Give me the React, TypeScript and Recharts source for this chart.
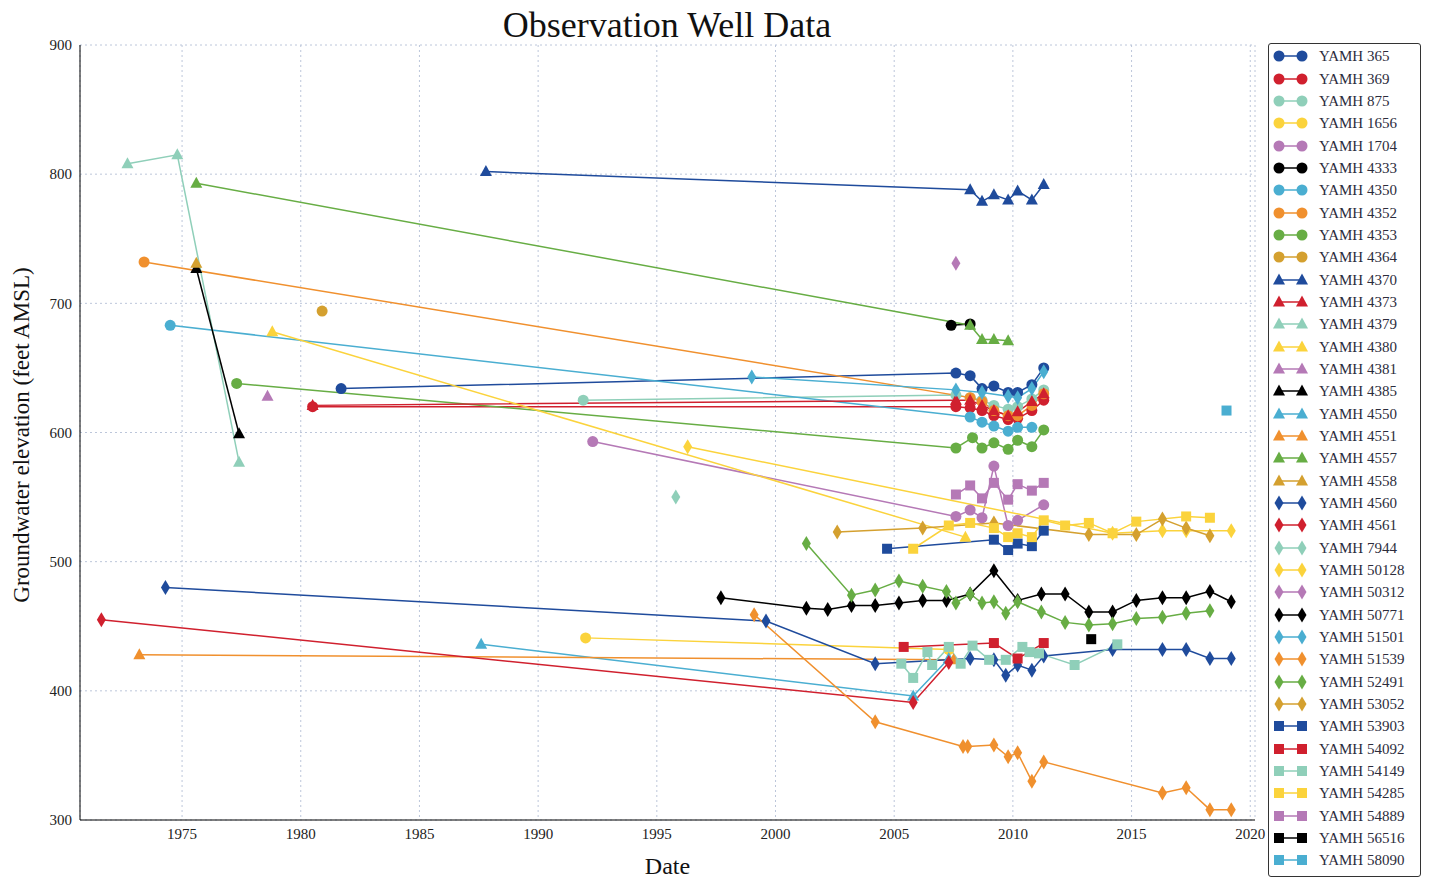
import { LineChart, Line, XAxis, YAxis, CartesianGrid, Legend } from "recharts";

type Pt = [number, number];

// year, elevation (ft AMSL)
const yamh365: Pt[] = [[1981.7, 634], [2007.6, 646], [2008.2, 644], [2008.7, 634], [2009.2, 636], [2009.8, 631], [2010.2, 631], [2010.8, 637], [2011.3, 650]];
const yamh369: Pt[] = [[1980.5, 620], [2007.6, 620], [2008.2, 619], [2008.7, 617], [2009.2, 613], [2009.8, 610], [2010.2, 611], [2010.8, 617], [2011.3, 625]];
const yamh875: Pt[] = [[1991.9, 625], [2007.6, 629], [2008.2, 627], [2008.7, 625], [2009.2, 621], [2009.8, 618], [2010.2, 620], [2010.8, 626], [2011.3, 633]];
const yamh1656: Pt[] = [[1992.0, 441], [2007.3, 432]];
const yamh1704: Pt[] = [[1992.3, 593], [2007.6, 535], [2008.2, 540], [2008.7, 534], [2009.2, 574], [2009.8, 528], [2010.2, 532], [2011.3, 544]];
const yamh4333: Pt[] = [[2007.4, 683], [2008.2, 684]];
const yamh4350: Pt[] = [[1974.5, 683], [2008.2, 612], [2008.7, 608], [2009.2, 605], [2009.8, 601], [2010.2, 604], [2010.8, 604]];
const yamh4352: Pt[] = [[1973.4, 732], [2008.2, 627], [2008.7, 624], [2009.2, 617], [2009.8, 613], [2010.2, 613], [2010.8, 621], [2011.3, 630]];
const yamh4353: Pt[] = [[1977.3, 638], [2007.6, 588], [2008.3, 596], [2008.7, 588], [2009.2, 592], [2009.8, 587], [2010.2, 594], [2010.8, 589], [2011.3, 602]];
const yamh4364: Pt[] = [[1980.9, 694]];
const yamh4370: Pt[] = [[1987.8, 802], [2008.2, 788], [2008.7, 779], [2009.2, 784], [2009.8, 780], [2010.2, 787], [2010.8, 780], [2011.3, 792]];
const yamh4373: Pt[] = [[1980.5, 621], [2007.6, 625], [2008.2, 625], [2008.7, 621], [2009.2, 617], [2009.8, 613], [2010.2, 616], [2010.8, 624], [2011.3, 630]];
const yamh4379: Pt[] = [[1972.7, 808], [1974.8, 815], [1977.4, 577]];
const yamh4380: Pt[] = [[1978.8, 678], [2008.0, 519]];
const yamh4381: Pt[] = [[1978.6, 628]];
const yamh4385: Pt[] = [[1975.6, 727], [1977.4, 599]];
const yamh4550: Pt[] = [[1987.6, 436], [2005.8, 396], [2007.3, 425]];
const yamh4551: Pt[] = [[1973.2, 428], [2007.5, 424]];
const yamh4557: Pt[] = [[1975.6, 793], [2008.2, 683], [2008.7, 672], [2009.2, 672], [2009.8, 671]];
const yamh4558: Pt[] = [[1975.6, 731]];
const yamh4560: Pt[] = [[1974.3, 480], [1999.6, 454], [2004.2, 421], [2008.2, 425], [2009.2, 424], [2009.7, 412], [2010.2, 420], [2010.8, 416], [2011.3, 427], [2014.2, 432], [2016.3, 432], [2017.3, 432], [2018.3, 425], [2019.2, 425]];
const yamh4561: Pt[] = [[1971.6, 455], [2005.8, 391], [2007.3, 422]];
const yamh7944: Pt[] = [[1995.8, 550]];
const yamh50128: Pt[] = [[1996.3, 589], [2014.2, 522], [2016.3, 524], [2017.3, 524], [2019.2, 524]];
const yamh50312: Pt[] = [[2007.6, 731]];
const yamh50771: Pt[] = [[1997.7, 472], [2001.3, 464], [2002.2, 463], [2003.2, 466], [2004.2, 466], [2005.2, 468], [2006.2, 470], [2007.2, 470], [2008.2, 475], [2009.2, 493], [2010.2, 470], [2011.2, 475], [2012.2, 475], [2013.2, 461], [2014.2, 461], [2015.2, 470], [2016.3, 472], [2017.3, 472], [2018.3, 477], [2019.2, 469]];
const yamh51501: Pt[] = [[1999.0, 643], [2007.6, 633], [2008.7, 631], [2009.8, 628], [2010.2, 627], [2010.8, 634], [2011.3, 647]];
const yamh51539: Pt[] = [[1999.1, 459], [2004.2, 376], [2007.9, 357], [2008.1, 357], [2009.2, 358], [2009.8, 349], [2010.2, 352], [2010.8, 330], [2011.3, 345], [2016.3, 321], [2017.3, 325], [2018.3, 308], [2019.2, 308]];
const yamh52491: Pt[] = [[2001.3, 514], [2003.2, 474], [2004.2, 478], [2005.2, 485], [2006.2, 481], [2007.2, 477], [2007.6, 468], [2008.2, 475], [2008.7, 468], [2009.2, 469], [2009.7, 460], [2010.2, 469], [2011.2, 461], [2012.2, 453], [2013.2, 451], [2014.2, 452], [2015.2, 456], [2016.3, 457], [2017.3, 460], [2018.3, 462]];
const yamh53052: Pt[] = [[2002.6, 523], [2006.2, 526], [2009.2, 530], [2013.2, 521], [2015.2, 521], [2016.3, 533], [2017.3, 526], [2018.3, 520]];
const yamh53903: Pt[] = [[2004.7, 510], [2009.2, 517], [2009.8, 509], [2010.2, 514], [2010.8, 512], [2011.3, 524]];
const yamh54092: Pt[] = [[2005.4, 434], [2009.2, 437], [2010.2, 425], [2011.3, 437]];
const yamh54149: Pt[] = [[2005.3, 421], [2005.8, 410], [2006.4, 430], [2006.6, 420], [2007.3, 434], [2007.8, 421], [2008.3, 435], [2009.0, 424], [2009.7, 424], [2010.4, 434], [2010.7, 430], [2011.1, 429], [2012.6, 420], [2014.4, 436]];
const yamh54285: Pt[] = [[2005.8, 510], [2007.3, 528], [2008.2, 530], [2009.2, 526], [2009.8, 519], [2010.2, 522], [2010.8, 519], [2011.3, 532], [2012.2, 528], [2013.2, 530], [2014.2, 522], [2015.2, 531], [2017.3, 535], [2018.3, 534]];
const yamh54889: Pt[] = [[2007.6, 552], [2008.2, 559], [2008.7, 549], [2009.2, 561], [2009.8, 548], [2010.2, 560], [2010.8, 555], [2011.3, 561]];
const yamh56516: Pt[] = [[2013.3, 440]];
const yamh58090: Pt[] = [[2019.0, 617]];

const yearTicks = [1975, 1980, 1985, 1990, 1995, 2000, 2005, 2010, 2015, 2020];
const elevTicks = [300, 400, 500, 600, 700, 800, 900];

const C = {
  blue: "#1f4b9c",
  red: "#d0202e",
  teal: "#8fcfb9",
  yellow: "#fbd33c",
  purple: "#b579b6",
  black: "#000000",
  cyan: "#4aaed1",
  orange: "#f0902e",
  green: "#67ad44",
  gold: "#d4a02f",
};

type Shape = "circle" | "triangle" | "diamond" | "square";

const series: { name: string; data: Pt[]; color: string; shape: Shape }[] = [
  { name: "YAMH 365", data: yamh365, color: C.blue, shape: "circle" },
  { name: "YAMH 369", data: yamh369, color: C.red, shape: "circle" },
  { name: "YAMH 875", data: yamh875, color: C.teal, shape: "circle" },
  { name: "YAMH 1656", data: yamh1656, color: C.yellow, shape: "circle" },
  { name: "YAMH 1704", data: yamh1704, color: C.purple, shape: "circle" },
  { name: "YAMH 4333", data: yamh4333, color: C.black, shape: "circle" },
  { name: "YAMH 4350", data: yamh4350, color: C.cyan, shape: "circle" },
  { name: "YAMH 4352", data: yamh4352, color: C.orange, shape: "circle" },
  { name: "YAMH 4353", data: yamh4353, color: C.green, shape: "circle" },
  { name: "YAMH 4364", data: yamh4364, color: C.gold, shape: "circle" },
  { name: "YAMH 4370", data: yamh4370, color: C.blue, shape: "triangle" },
  { name: "YAMH 4373", data: yamh4373, color: C.red, shape: "triangle" },
  { name: "YAMH 4379", data: yamh4379, color: C.teal, shape: "triangle" },
  { name: "YAMH 4380", data: yamh4380, color: C.yellow, shape: "triangle" },
  { name: "YAMH 4381", data: yamh4381, color: C.purple, shape: "triangle" },
  { name: "YAMH 4385", data: yamh4385, color: C.black, shape: "triangle" },
  { name: "YAMH 4550", data: yamh4550, color: C.cyan, shape: "triangle" },
  { name: "YAMH 4551", data: yamh4551, color: C.orange, shape: "triangle" },
  { name: "YAMH 4557", data: yamh4557, color: C.green, shape: "triangle" },
  { name: "YAMH 4558", data: yamh4558, color: C.gold, shape: "triangle" },
  { name: "YAMH 4560", data: yamh4560, color: C.blue, shape: "diamond" },
  { name: "YAMH 4561", data: yamh4561, color: C.red, shape: "diamond" },
  { name: "YAMH 7944", data: yamh7944, color: C.teal, shape: "diamond" },
  { name: "YAMH 50128", data: yamh50128, color: C.yellow, shape: "diamond" },
  { name: "YAMH 50312", data: yamh50312, color: C.purple, shape: "diamond" },
  { name: "YAMH 50771", data: yamh50771, color: C.black, shape: "diamond" },
  { name: "YAMH 51501", data: yamh51501, color: C.cyan, shape: "diamond" },
  { name: "YAMH 51539", data: yamh51539, color: C.orange, shape: "diamond" },
  { name: "YAMH 52491", data: yamh52491, color: C.green, shape: "diamond" },
  { name: "YAMH 53052", data: yamh53052, color: C.gold, shape: "diamond" },
  { name: "YAMH 53903", data: yamh53903, color: C.blue, shape: "square" },
  { name: "YAMH 54092", data: yamh54092, color: C.red, shape: "square" },
  { name: "YAMH 54149", data: yamh54149, color: C.teal, shape: "square" },
  { name: "YAMH 54285", data: yamh54285, color: C.yellow, shape: "square" },
  { name: "YAMH 54889", data: yamh54889, color: C.purple, shape: "square" },
  { name: "YAMH 56516", data: yamh56516, color: C.black, shape: "square" },
  { name: "YAMH 58090", data: yamh58090, color: C.cyan, shape: "square" },
];

const SERIF = "'Liberation Serif', 'DejaVu Serif', serif";

function Marker({ shape, cx, cy, color }: { shape: Shape; cx: number; cy: number; color: string }) {
  if (cx == null || cy == null) return null;
  if (shape === "circle") return <circle cx={cx} cy={cy} r={5.5} fill={color} />;
  if (shape === "triangle")
    return <polygon points={`${cx},${cy - 6.5} ${cx + 6},${cy + 4.5} ${cx - 6},${cy + 4.5}`} fill={color} />;
  if (shape === "diamond")
    return <polygon points={`${cx},${cy - 7.5} ${cx + 4.5},${cy} ${cx},${cy + 7.5} ${cx - 4.5},${cy}`} fill={color} />;
  return <rect x={cx - 5} y={cy - 5} width={10} height={10} fill={color} />;
}

const dotFor = (shape: Shape, color: string) => (p: any) =>
  <Marker key={`m-${p.index}`} shape={shape} cx={p.cx} cy={p.cy} color={color} />;

function WellLegend() {
  return (
    <div
      style={{
        boxSizing: "border-box",
        width: 153,
        height: 834,
        border: "1.5px solid #333",
        borderRadius: 3,
        background: "#fff",
        paddingTop: 1.3,
        fontFamily: SERIF,
      }}
    >
      {series.map((s) => (
        <div key={s.name} style={{ height: 22.33, display: "flex", alignItems: "center", overflow: "hidden" }}>
          <svg width={50} height={18} style={{ flexShrink: 0 }}>
            <line x1={10} y1={9} x2={33} y2={9} stroke={s.color} strokeWidth={1.5} />
            <Marker shape={s.shape} cx={10} cy={9} color={s.color} />
            <Marker shape={s.shape} cx={33} cy={9} color={s.color} />
          </svg>
          <span style={{ fontSize: 15, lineHeight: "18px", color: "#2c2c3c", whiteSpace: "nowrap" }}>{s.name}</span>
        </div>
      ))}
    </div>
  );
}

export default function App() {
  return (
    <div style={{ position: "absolute", left: 0, top: 0, width: 1431, height: 878, background: "#fff" }}>
      <div
        style={{
          position: "absolute",
          left: 417,
          width: 500,
          top: 6,
          textAlign: "center",
          fontFamily: SERIF,
          fontSize: 36,
          lineHeight: "38px",
          color: "#111",
        }}
      >
        Observation Well Data
      </div>
      <div
        style={{
          position: "absolute",
          left: 22,
          top: 435,
          transform: "translate(-50%, -50%) rotate(-90deg)",
          whiteSpace: "nowrap",
          fontFamily: SERIF,
          fontSize: 23,
          color: "#111",
        }}
      >
        Groundwater elevation (feet AMSL)
      </div>
      <LineChart width={1431} height={878} margin={{ top: 45, right: 176, bottom: 0, left: 0 }}>
        <CartesianGrid stroke="#bcc6da" strokeDasharray="2 3" />
        <XAxis
          type="number"
          dataKey="x"
          domain={[1970.7, 2020.2]}
          ticks={yearTicks}
          allowDataOverflow
          height={58}
          tickLine={false}
          axisLine={{ stroke: "#000" }}
          tick={{ fontFamily: SERIF, fontSize: 15, fill: "#222" }}
          label={{ value: "Date", position: "insideBottom", offset: 4, fontFamily: SERIF, fontSize: 24, fill: "#111" }}
        />
        <XAxis xAxisId="top" orientation="top" type="number" domain={[1970.7, 2020.2]} height={0} tick={false} tickLine={false} axisLine={{ stroke: "#000" }} />
        <YAxis
          type="number"
          domain={[300, 900]}
          ticks={elevTicks}
          width={80}
          tickLine={false}
          axisLine={{ stroke: "#000" }}
          tick={{ fontFamily: SERIF, fontSize: 15, fill: "#222" }}
        />
        <YAxis yAxisId="right" orientation="right" domain={[300, 900]} width={0} tick={false} tickLine={false} axisLine={{ stroke: "#000" }} />
        {series.map((s) => (
          <Line
            key={s.name}
            name={s.name}
            data={s.data.map(([x, y]) => ({ x, y }))}
            dataKey="y"
            type="linear"
            stroke={s.color}
            strokeWidth={1.5}
            dot={dotFor(s.shape, s.color)}
            activeDot={false}
            isAnimationActive={false}
          />
        ))}
        <Legend
          layout="vertical"
          align="center"
          verticalAlign="middle"
          content={() => <WellLegend />}
          wrapperStyle={{ position: "absolute", left: 1268, top: 43, width: 153, height: 834 }}
        />
      </LineChart>
    </div>
  );
}
